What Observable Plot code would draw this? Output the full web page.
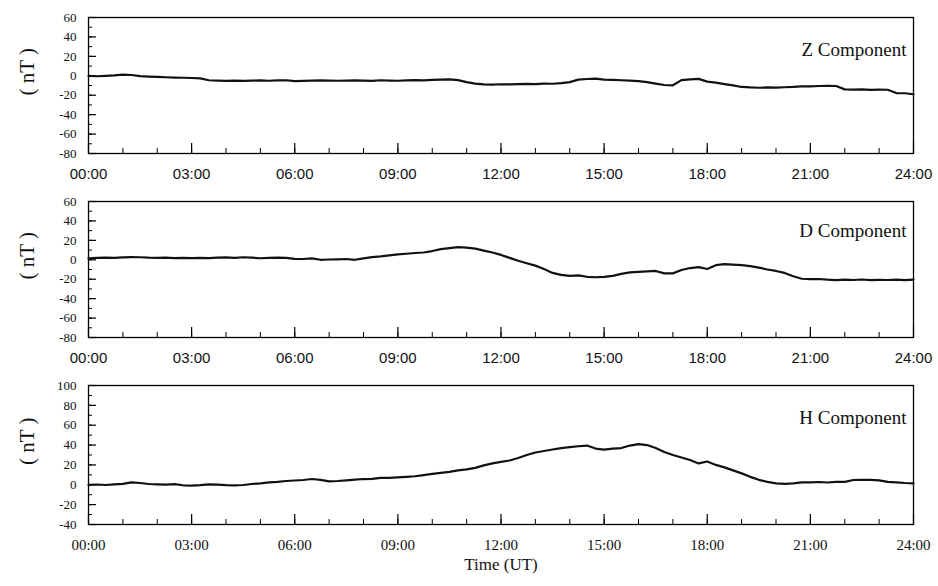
<!DOCTYPE html>
<html>
<head>
<meta charset="utf-8">
<script src="https://cdn.jsdelivr.net/npm/d3@7"></script>
<script src="https://cdn.jsdelivr.net/npm/@observablehq/plot@0.6"></script>
<style>
  body { margin: 0; background: #fff; }
  #chart { width: 938px; height: 586px; position: relative; }
  #chart svg { display: block; overflow: visible; }
</style>
</head>
<body>
<div id="chart"></div>
<script>
// Time axis (hours UT), sampled every 15 minutes
const hours = d3.range(0, 24.001, 0.25);
const hourTicks = [0, 3, 6, 9, 12, 15, 18, 21, 24];
const minorHours = d3.range(0, 25, 1);

// Z component (nT)
const zValues = [
  0, -0.5, 0, 0.5, 1.2, 0.8, -0.3, -0.8, -1.2, -1.5, -1.8, -2.0, -2.3, -2.6, -4.6, -5.0,
  -5.3, -4.9, -5.2, -5.0, -4.7, -5.1, -4.8, -4.6, -5.4, -5.2, -5.0, -4.8, -4.9, -5.1, -5.0, -4.8,
  -5.0, -5.2, -4.6, -4.9, -5.1, -4.8, -4.5, -4.7, -4.3, -4.0, -3.6, -4.5, -6.5, -8.0, -8.8, -9.0,
  -8.7, -8.9, -8.5, -8.3, -8.6, -8.0, -8.2, -7.6, -6.5, -4.0, -3.3, -2.9, -4.0, -4.3, -4.6, -5.0,
  -5.5, -6.5, -8.0, -9.5, -9.8, -4.5, -3.6, -3.2, -6.0, -7.0, -8.5, -9.8, -11.5, -12.0, -12.3, -12.0,
  -12.2, -11.8, -11.5, -11.0, -10.8, -10.5, -10.3, -10.5, -14.0, -14.3, -14.0, -14.5, -14.2, -14.4, -17.8, -18.0,
  -19.0
];

// D component (nT)
const dValues = [
  1.5, 2.0, 2.3, 2.0, 2.5, 2.8, 2.6, 2.2, 2.0, 2.3, 1.8, 2.0, 1.7, 2.0, 1.8, 2.2,
  2.4, 2.0, 2.6, 2.2, 1.6, 1.9, 2.3, 2.0, 1.0, 0.8, 1.5, 0.0, 0.3, 0.5, 0.8, 0.0,
  1.5, 2.8, 3.5, 4.5, 5.5, 6.2, 7.0, 7.5, 9.0, 11.0, 12.0, 13.0, 12.5, 11.5, 9.5, 7.5,
  5.0, 2.0, -1.0, -3.5, -6.0, -9.5, -13.5, -15.5, -16.5, -16.0, -17.5, -18.0, -17.5, -16.5, -14.5, -13.0,
  -12.5, -12.0, -11.5, -14.0, -14.0, -10.5, -8.5, -7.5, -9.5, -5.5, -4.5, -5.0, -5.5, -6.5, -8.0, -10.0,
  -11.5, -13.5, -17.0, -19.5, -20.0, -19.8, -20.5, -21.0, -20.5, -20.8, -20.3, -21.0, -20.6, -20.8, -20.5, -21.0,
  -20.5
];

// H component (nT)
const hValues = [
  0, 0.3, -0.2, 0.5, 1.0, 2.5, 1.8, 0.8, 0.5, 0.2, 0.6, -0.5, -0.8, -0.3, 0.5, 0.2,
  -0.3, -0.5, -0.2, 0.8, 1.5, 2.5, 3.0, 3.8, 4.3, 4.8, 5.8, 5.0, 3.5, 3.8, 4.5, 5.2,
  5.8, 6.0, 7.0, 7.0, 7.5, 8.0, 8.6, 9.8, 11.0, 12.0, 13.0, 14.5, 15.5, 17.0, 19.5, 21.5,
  23.0, 24.5, 27.0, 30.0, 32.5, 34.0, 35.5, 37.0, 38.0, 38.8, 39.5, 36.5, 35.5, 36.5, 37.0, 39.5,
  41.0, 40.0, 37.0, 33.0, 30.0, 27.5, 25.0, 21.5, 23.5, 20.0, 17.5, 14.5, 11.5, 8.0, 5.0, 3.0,
  1.5, 1.0, 1.5, 2.5, 2.5, 2.8, 2.3, 3.0, 3.0, 4.8, 5.0, 5.0, 4.5, 3.0, 2.5, 1.8,
  1.5
];

const panels = [
  {name: "Z Component", values: zValues, domain: [-80, 60], yTicks: [-80, -60, -40, -20, 0, 20, 40, 60], tickFont: "Liberation Sans, Arial, sans-serif", mt: 17, h: 186, mb: 33, labelDy: 25},
  {name: "D Component", values: dValues, domain: [-80, 60], yTicks: [-80, -60, -40, -20, 0, 20, 40, 60], tickFont: "Liberation Sans, Arial, sans-serif", mt: 15, h: 184, mb: 33, labelDy: 22},
  {name: "H Component", values: hValues, domain: [-40, 100], yTicks: [-40, -20, 0, 20, 40, 60, 80, 100], tickFont: "Liberation Serif, Times New Roman, serif", mt: 15, h: 216, mb: 62, labelDy: 25}
];

const serif = "Liberation Serif, Times New Roman, serif";
const fmt = h => String(h).padStart(2, "0") + ":00";
const root = document.getElementById("chart");

panels.forEach((p, i) => {
  const data = hours.map((t, k) => ({t, v: p.values[k]}));
  const innerH = p.h - p.mt - p.mb;
  const innerW = 938 - 88 - 25;
  const minorY = d3.range(p.domain[0], p.domain[1] + 0.001, 10);
  const marks = [
    Plot.frame({stroke: "#000", strokeWidth: 1.3}),
    Plot.tickX(minorHours, {x: d => d, insetTop: innerH - 5, stroke: "#000", strokeWidth: 1}),
    Plot.tickX(hourTicks, {x: d => d, insetTop: innerH - 10, stroke: "#000", strokeWidth: 1.2}),
    Plot.tickY(minorY, {y: d => d, insetRight: innerW - 4, stroke: "#000", strokeWidth: 1}),
    Plot.tickY(p.yTicks, {y: d => d, insetRight: innerW - 8, stroke: "#000", strokeWidth: 1.2}),
    Plot.axisX(hourTicks, {tickSize: 0, tickPadding: 15, tickFormat: fmt, fontSize: 15, fontFamily: p.tickFont, fill: "#111", letterSpacing: "0.6px", label: null}),
    Plot.axisY(p.yTicks, {tickSize: 0, tickPadding: 12, fontSize: 13, fontFamily: serif, fill: "#111", tickFormat: d => String(d), label: null}),
    Plot.line(data, {x: "t", y: "v", stroke: "#111", strokeWidth: 2.2}),
    Plot.text([p.name], {frameAnchor: "top-right", text: d => d, textAnchor: "end", dx: -7, dy: p.labelDy, fontSize: 19, fontFamily: serif, fill: "#111"}),
    Plot.text(["( nT )"], {frameAnchor: "left", text: d => d, rotate: -90, dx: -61, dy: 10, fontSize: 21, fontFamily: serif, fill: "#111"})
  ];
  if (i === 2) {
    marks.push(Plot.text(["Time (UT)"], {frameAnchor: "bottom", text: d => d, dy: 45, fontSize: 17, fontFamily: serif, fill: "#111"}));
  }
  const chart = Plot.plot({
    width: 938,
    height: p.h,
    marginLeft: 88,
    marginRight: 25,
    marginTop: p.mt,
    marginBottom: p.mb,
    x: {domain: [0, 24], axis: null, label: null},
    y: {domain: p.domain, axis: null, label: null},
    marks
  });
  root.appendChild(chart);
});
</script>
</body>
</html>
